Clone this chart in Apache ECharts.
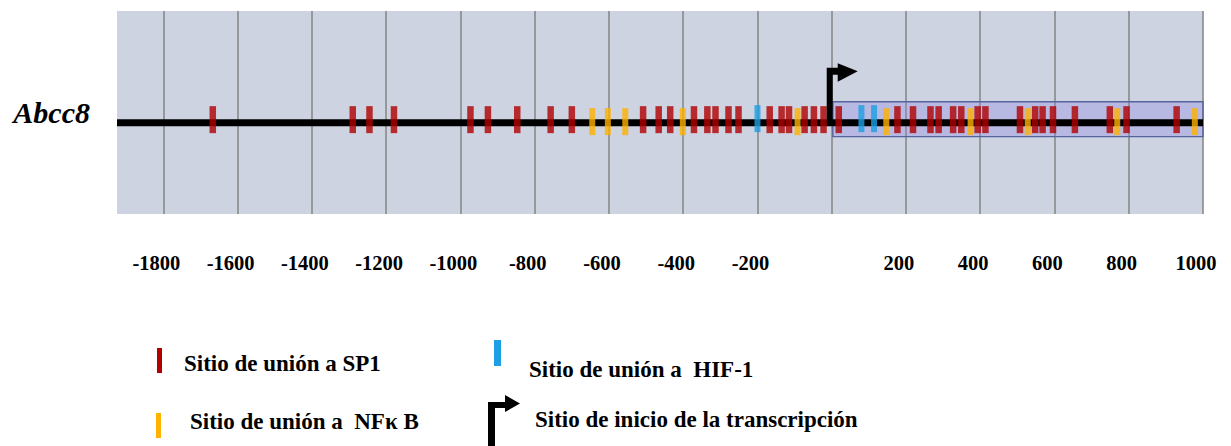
<!DOCTYPE html>
<html>
<head>
<meta charset="utf-8">
<script src="https://cdn.jsdelivr.net/npm/echarts@6/dist/echarts.min.js"></script>
<style>
  html, body { margin: 0; padding: 0; background: #ffffff; }
  #chart { width: 1231px; height: 446px; }
</style>
</head>
<body>
<div id="chart"></div>
<script>
// Abcc8 promoter map: binding sites (bp relative to the transcription start site)
const geneName = 'Abcc8';
const axisRange = [-1925, 1000];
const gridValues = [-1800, -1600, -1400, -1200, -1000, -800, -600, -400, -200, 0, 200, 400, 600, 800, 1000];
const tickLabels = [-1800, -1600, -1400, -1200, -1000, -800, -600, -400, -200, 200, 400, 600, 800, 1000];

const sp1Sites = [-1667, -1290, -1245, -1179, -973, -926, -847, -757, -700, -508, -466, -435,
  -371, -335, -313, -278, -251, -167, -135, -115, -73, -48, -22, 19, 177, 219, 266, 288,
  327, 349, 393, 414, 507, 548, 568, 596, 655, 749, 794, 929];
const nfkbSites = [-645, -603, -556, -401, -92, 147, 374, 528, 769, 978];
const hif1Sites = [-200, 80, 114];
const tssSite = 0;
const boxRegion = [3, 1000];

const names = {
  sp1: 'Sitio de unión a SP1',
  nfkb: 'Sitio de unión a  NFκ B',
  hif1: 'Sitio de unión a  HIF-1',
  tss: 'Sitio de inicio de la transcripción'
};

const colors = { sp1: '#b00000', nfkb: '#ffb200', hif1: '#1c9fe4' };
const serif = 'Liberation Serif, Times New Roman, serif';
const legendFont = 'bold 23px ' + serif;

const toPoints = arr => arr.map(v => [v, 0]);

// Key below the plot: coloured bars / arrow followed by their labels
function legendGraphics() {
  const bar = (x, y, w, h, fill) => ({ type: 'rect', left: x, top: y, shape: { width: w, height: h }, style: { fill: fill } });
  const label = (x, y, text) => ({ type: 'text', x: x, y: y, style: { text: text, font: legendFont, fill: '#000', verticalAlign: 'middle' } });
  return [
    bar(157, 348, 5, 25, colors.sp1), label(184, 363, names.sp1),
    bar(156, 413, 5, 25, colors.nfkb), label(190, 421, names.nfkb),
    bar(494, 340, 7, 26, colors.hif1), label(529, 369, names.hif1),
    {
      type: 'polygon',
      shape: { points: [[488, 402], [505, 402], [505, 395], [520, 403.5], [505, 412], [505, 408], [495, 408], [495, 460], [488, 460]] },
      style: { fill: '#000' }
    },
    label(535, 419, names.tss)
  ];
}

const chart = echarts.init(document.getElementById('chart'), null, { renderer: 'svg' });

chart.setOption({
  animation: false,
  backgroundColor: '#ffffff',
  grid: {
    left: 117, right: 28, top: 11, bottom: 232,
    show: true, backgroundColor: '#cdd3e0', borderWidth: 0
  },
  xAxis: {
    type: 'value',
    min: axisRange[0],
    max: axisRange[1],
    axisLine: { show: false },
    axisTick: { show: false, customValues: gridValues },
    splitLine: { show: true, lineStyle: { color: '#8a8a8a', width: 1.6 } },
    axisLabel: {
      customValues: tickLabels,
      formatter: v => String(v),
      margin: 38,
      padding: [0, 14, 0, 0],
      fontFamily: serif, fontWeight: 'bold', fontSize: 20.5, color: '#000'
    }
  },
  yAxis: {
    type: 'value',
    min: -0.9,
    max: 1.1,
    name: geneName,
    nameLocation: 'middle',
    nameRotate: 0,
    nameGap: 27,
    nameTextStyle: { fontFamily: serif, fontWeight: 'bold', fontStyle: 'italic', fontSize: 30, color: '#000' },
    axisLine: { show: false },
    axisTick: { show: false },
    axisLabel: { show: false },
    splitLine: { show: false }
  },
  graphic: legendGraphics(),
  series: [
    {
      name: 'promotor',
      type: 'line',
      data: [[axisRange[0], 0], [axisRange[1], 0]],
      symbol: 'none',
      silent: true,
      z: 3,
      lineStyle: { color: '#000', width: 7 },
      markArea: {
        silent: true,
        itemStyle: { color: 'rgba(140,130,230,0.32)', borderColor: '#56649c', borderWidth: 1.4 },
        data: [[{ xAxis: boxRegion[0], yAxis: -0.138 }, { xAxis: boxRegion[1], yAxis: 0.206 }]]
      }
    },
    {
      name: names.sp1, type: 'scatter', data: toPoints(sp1Sites), z: 5,
      symbol: 'rect', symbolSize: [6.5, 27], symbolOffset: [0, -3],
      itemStyle: { color: colors.sp1 }
    },
    {
      name: names.nfkb, type: 'scatter', data: toPoints(nfkbSites), z: 5,
      symbol: 'rect', symbolSize: [6, 27], symbolOffset: [0, -1],
      itemStyle: { color: colors.nfkb }
    },
    {
      name: names.hif1, type: 'scatter', data: toPoints(hif1Sites), z: 5,
      symbol: 'rect', symbolSize: [6, 27], symbolOffset: [0, -4],
      itemStyle: { color: colors.hif1 }
    },
    {
      name: names.tss, type: 'custom', data: [[tssSite, 0]], z: 6,
      itemStyle: { color: '#000' },
      encode: { x: 0, y: 1 },
      renderItem: function (params, api) {
        const p = api.coord([api.value(0), api.value(1)]);
        const x = p[0], y = p[1];
        return {
          type: 'polygon',
          shape: {
            points: [
              [x - 5, y], [x - 5, y - 55], [x + 6, y - 55], [x + 6, y - 59.5],
              [x + 26, y - 51.5], [x + 6, y - 41], [x + 6, y - 48], [x + 1, y - 48], [x + 1, y]
            ]
          },
          style: { fill: '#000' }
        };
      }
    }
  ]
});
</script>
</body>
</html>
